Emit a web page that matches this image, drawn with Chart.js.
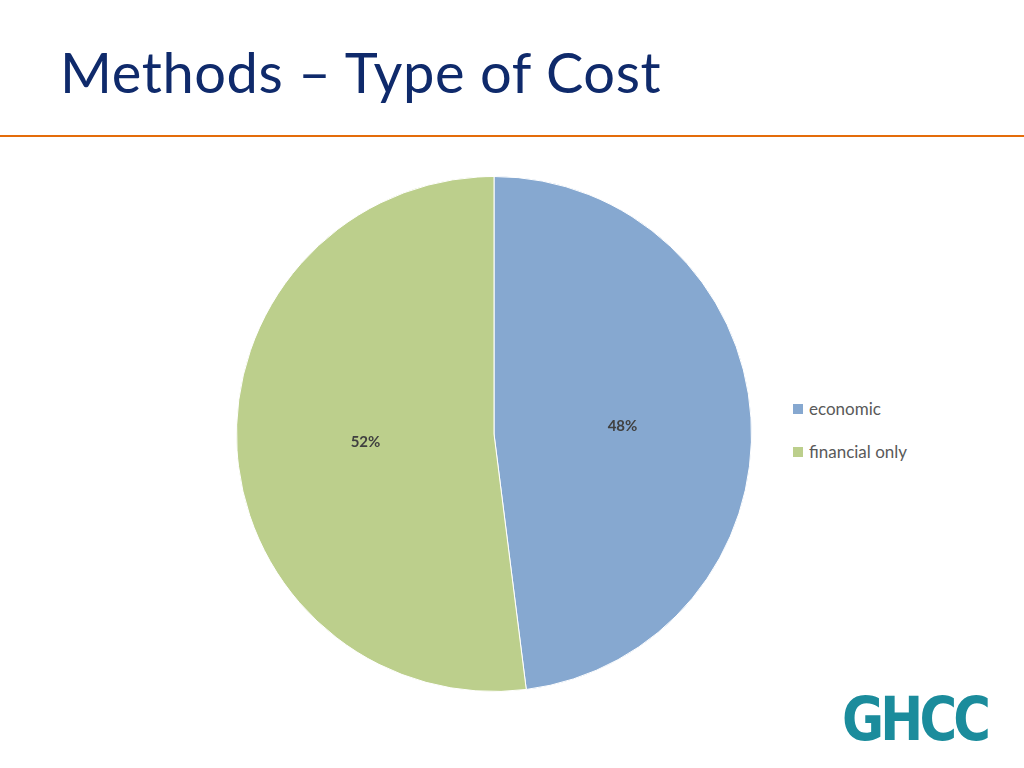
<!DOCTYPE html>
<html><head><meta charset="utf-8">
<script src="https://cdn.jsdelivr.net/npm/chart.js@4"></script>
<style>
body{margin:0;width:1024px;height:768px;background:#fff;position:relative;overflow:hidden;font-family:Lato,"Open Sans",sans-serif}
#title{position:absolute;left:60px;top:38px;font-size:56px;color:#0f2a6b;font-family:Lato,"Open Sans",sans-serif;white-space:nowrap;letter-spacing:0.6px}
#rule{position:absolute;left:0;top:135px;width:1024px;height:1.5px;background:#e46c0a}
#c{position:absolute;left:236px;top:176px}
#legend{position:absolute;left:793px;top:398px;font-size:17px;color:#595959;font-family:Lato,sans-serif}
.li{height:43px;display:flex;align-items:flex-start}
.sw{width:10px;height:10px;margin:6px 6px 0 0}
#logo{position:absolute;left:842px;top:684px;font-size:60px;font-weight:900;color:#1b8c9c;font-family:"DejaVu Sans Condensed","Liberation Sans Narrow",sans-serif;letter-spacing:-4px;transform:scaleX(0.95);transform-origin:left}
</style></head><body>
<div id="title">Methods – Type of Cost</div>
<div id="rule"></div>
<canvas id="c" width="516" height="516"></canvas>
<div id="legend"></div>
<div id="logo">GHCC</div>
<script>
const categories=["economic","financial only"];
const values=[48,52];
const colors=["#86a8d0","#bccf8c"];
const labelPlugin={id:"lbl",afterDatasetsDraw(ch){const c=ch.ctx;const m=ch.getDatasetMeta(0);c.save();c.font="bold 15px Lato,sans-serif";c.fillStyle="#404040";c.textAlign="center";c.textBaseline="middle";
m.data.forEach((a,i)=>{const ang=(a.startAngle+a.endAngle)/2;const r=a.outerRadius*0.5;c.fillText(values[i]+"%",a.x+Math.cos(ang)*r,a.y+Math.sin(ang)*r);});c.restore();}};
new Chart(document.getElementById("c"),{type:"pie",data:{labels:categories,datasets:[{data:values,backgroundColor:colors,borderColor:"#fff",borderWidth:1}]},
options:{responsive:false,animation:false,layout:{padding:0},plugins:{legend:{display:false},tooltip:{enabled:false}}},plugins:[labelPlugin]});
const lg=document.getElementById("legend");
categories.forEach((n,i)=>{lg.innerHTML+=`<div class="li"><div class="sw" style="background:${colors[i]}"></div>${n}</div>`;});
</script></body></html>
